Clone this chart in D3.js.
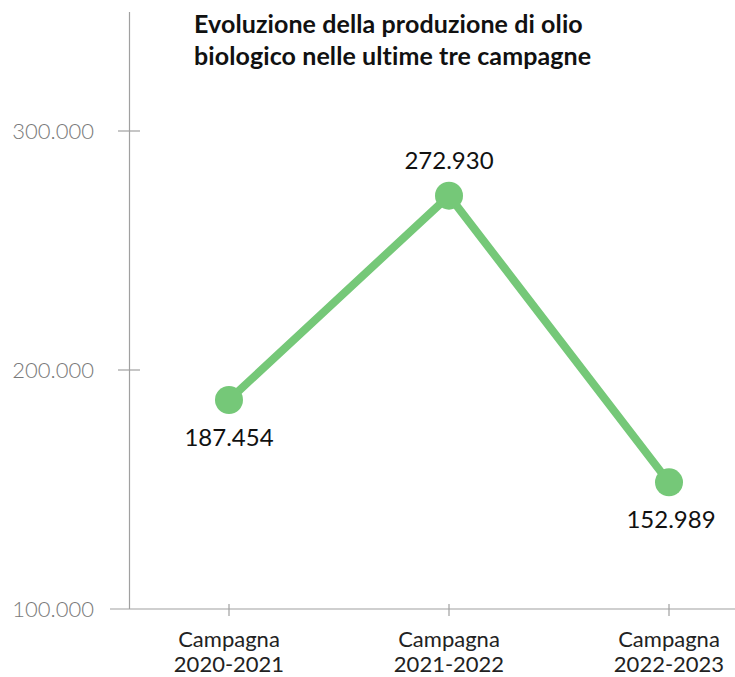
<!DOCTYPE html>
<html>
<head>
<meta charset="utf-8">
<script src="https://cdn.jsdelivr.net/npm/d3@7"></script>
<style>
  html, body { margin: 0; padding: 0; background: #ffffff; }
  svg { display: block; }
</style>
</head>
<body>
<svg id="chart" width="735" height="677"></svg>
<script>
// Organic olive oil production over the last three harvest seasons
const campaigns = ["Campagna 2020-2021", "Campagna 2021-2022", "Campagna 2022-2023"];
const production = [187454, 272930, 152989];
const valueLabels = ["187.454", "272.930", "152.989"];
const yTicks = [100000, 200000, 300000];
const yTickLabels = ["100.000", "200.000", "300.000"];
const titleLines = ["Evoluzione della produzione di olio", "biologico nelle ultime tre campagne"];

const svg = d3.select("#chart");
const font = "Lato, 'Open Sans', sans-serif";

const axisX = 129.5;
const baseY = 609;

const x = d3.scalePoint().domain(campaigns).range([229, 669]);
const y = d3.scaleLinear().domain([100000, 300000]).range([baseY, 131]);

// vertical axis line
svg.append("line")
  .attr("x1", axisX).attr("x2", axisX)
  .attr("y1", 12).attr("y2", baseY)
  .attr("stroke", "#a0a0a0").attr("stroke-width", 1.2);

// horizontal baseline
svg.append("line")
  .attr("x1", 110).attr("x2", 735)
  .attr("y1", baseY).attr("y2", baseY)
  .attr("stroke", "#a0a0a0").attr("stroke-width", 1.2);

// y ticks crossing the axis
svg.selectAll(".ytick").data(yTicks.slice(1)).join("line")
  .attr("x1", 118).attr("x2", 140)
  .attr("y1", d => y(d)).attr("y2", d => y(d))
  .attr("stroke", "#a0a0a0").attr("stroke-width", 1.2);

svg.selectAll(".ylab").data(yTicks).join("text")
  .attr("x", 94).attr("y", d => y(d) + 8)
  .attr("text-anchor", "end")
  .attr("font-family", font).attr("font-weight", 300)
  .attr("font-size", 22).attr("fill", "#7a7a7a")
  .text((d, i) => yTickLabels[i]);

// x ticks
svg.selectAll(".xtick").data(campaigns).join("line")
  .attr("x1", d => x(d)).attr("x2", d => x(d))
  .attr("y1", baseY - 5).attr("y2", baseY + 7)
  .attr("stroke", "#a0a0a0").attr("stroke-width", 1.2);

const xl = svg.selectAll(".xlab").data(campaigns).join("text")
  .attr("x", d => x(d)).attr("text-anchor", "middle")
  .attr("font-family", font).attr("font-size", 22).attr("fill", "#222");
xl.append("tspan").attr("x", d => x(d)).attr("y", 647).text(d => d.split(" ")[0]);
xl.append("tspan").attr("x", d => x(d)).attr("y", 672).text(d => d.split(" ")[1]);

// series line
const line = d3.line().x((d, i) => x(campaigns[i])).y(d => y(d));
svg.append("path")
  .datum(production)
  .attr("d", line)
  .attr("fill", "none")
  .attr("stroke", "#75c878")
  .attr("stroke-width", 8)
  .attr("stroke-linejoin", "round");

svg.selectAll(".pt").data(production).join("circle")
  .attr("cx", (d, i) => x(campaigns[i]))
  .attr("cy", d => y(d))
  .attr("r", 14)
  .attr("fill", "#75c878");

// value labels: above for the peak, below otherwise
svg.selectAll(".vlab").data(production).join("text")
  .attr("x", (d, i) => x(campaigns[i]) + (i === 2 ? 2 : 0))
  .attr("y", (d, i) => i === 1 ? y(d) - 27 : y(d) + 46)
  .attr("text-anchor", "middle")
  .attr("font-family", font).attr("font-size", 24).attr("fill", "#111")
  .text((d, i) => valueLabels[i]);

// title
svg.selectAll(".title").data(titleLines).join("text")
  .attr("x", 194).attr("y", (d, i) => 33 + i * 32)
  .attr("font-family", font).attr("font-weight", 700)
  .attr("font-size", 25).attr("letter-spacing", 0.1).attr("fill", "#111")
  .text(d => d);
</script>
</body>
</html>
